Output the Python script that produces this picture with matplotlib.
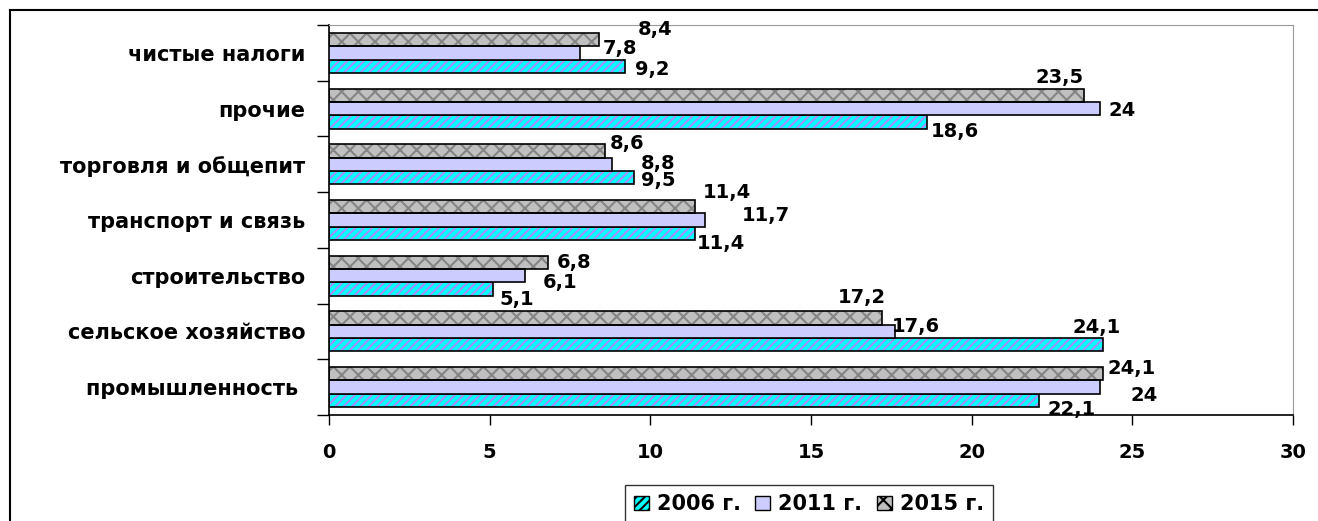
import matplotlib
matplotlib.use('Agg')
import matplotlib.pyplot as plt
from matplotlib.lines import Line2D
from matplotlib.patches import Patch
import numpy as np

plt.rcParams['font.family'] = ['DejaVu Sans']
plt.rcParams['font.weight'] = 'bold'
plt.rcParams['hatch.linewidth'] = 1.5

# данные (снизу вверх, как в Excel)
categories = ['промышленность ', 'сельское хозяйство', 'строительство',
              'транспорт и связь', 'торговля и общепит', 'прочие', 'чистые налоги']
years = ['2006 г.', '2011 г.', '2015 г.']
vals_2006 = [22.1, 24.1, 5.1, 11.4, 9.5, 18.6, 9.2]
vals_2011 = [24, 17.6, 6.1, 11.7, 8.8, 24, 7.8]
vals_2015 = [24.1, 17.2, 6.8, 11.4, 8.6, 23.5, 8.4]
x_ticks = [0, 5, 10, 15, 20, 25, 30]

# сдвиги подписей (пиксели: вправо, вниз)
off_2006 = [(8, 9), (-31, -17), (7, 10), (1, 10), (7, 3), (4, 10), (10, 3)]
off_2011 = [(30, 8), (-3, -5), (18, 7), (37, -5), (29, -1), (8, 2), (23, -4)]
off_2015 = [(4, -5), (-44, -21), (9, 0), (7, -14), (4, -7), (-49, -18), (39, -10)]

fig = plt.figure(figsize=(13.18, 5.21), dpi=100)
ax = fig.add_axes([329 / 1318, 1 - 415 / 521, (1293 - 329) / 1318, (415 - 25) / 521])

y = np.arange(len(categories))
h = 0.24

# 2006 — голубой со штриховкой
ax.barh(y - h, vals_2006, height=h, color='#00FFFF', edgecolor='#A58CFF',
        hatch='////', linewidth=0, zorder=2)
ax.barh(y - h, vals_2006, height=h, color='none', edgecolor='black', linewidth=1.2, zorder=3)
# 2011 — лавандовый
ax.barh(y, vals_2011, height=h, color='#CCCCFF', edgecolor='black', linewidth=1.2, zorder=3)
# 2015 — серая текстура
ax.barh(y + h, vals_2015, height=h, color='#C0C0C0', edgecolor='#858585',
        hatch='xx', linewidth=0, zorder=2)
ax.barh(y + h, vals_2015, height=h, color='none', edgecolor='black', linewidth=1.2, zorder=3)

def fmt(v):
    return f'{v:g}'.replace('.', ',')

for vals, offs, dy_bar in [(vals_2006, off_2006, -h), (vals_2011, off_2011, 0), (vals_2015, off_2015, h)]:
    for i, v in enumerate(vals):
        dx, dy = offs[i]
        ax.annotate(fmt(v), (v, i + dy_bar), xytext=(dx * 0.72, -dy * 0.72),
                    textcoords='offset points', ha='left', va='center',
                    fontsize=14, fontweight='bold', zorder=4)

ax.set_xlim(0, 30)
ax.set_ylim(-0.5, len(categories) - 0.5)
ax.set_xticks(x_ticks)
ax.set_xticklabels([str(t) for t in x_ticks], fontsize=14, fontweight='bold')
ax.tick_params(axis='x', direction='out', length=7, width=1, pad=13)

ax.set_yticks(y)
ax.set_yticklabels(categories, fontsize=15, fontweight='bold')
ax.set_yticks(np.arange(-0.5, len(categories), 1), minor=True)
ax.tick_params(axis='y', which='major', length=0, pad=17)
ax.tick_params(axis='y', which='minor', direction='out', length=9, width=1)

ax.spines['left'].set_linewidth(1.2)
ax.spines['bottom'].set_linewidth(1.2)
ax.spines['top'].set_color('#999999')
ax.spines['right'].set_color('#999999')

# внешняя рамка
fig.add_artist(Line2D([10 / 1318, 1], [1 - 10 / 521, 1 - 10 / 521], color='black', lw=1.5,
                      transform=fig.transFigure))
fig.add_artist(Line2D([10 / 1318, 10 / 1318], [0, 1 - 10 / 521], color='black', lw=1.5,
                      transform=fig.transFigure))

handles = [Patch(facecolor='#00FFFF', edgecolor='black', hatch='////'),
           Patch(facecolor='#CCCCFF', edgecolor='black'),
           Patch(facecolor='#C0C0C0', edgecolor='black', hatch='xx')]
leg = fig.legend(handles, years, loc='upper center', bbox_to_anchor=(809 / 1318, 1 - 485 / 521),
                 ncol=3, prop={'weight': 'bold', 'size': 15}, frameon=True, fancybox=False,
                 edgecolor='black', handlelength=0.7, handleheight=0.7, handletextpad=0.4,
                 columnspacing=0.7, borderpad=0.45, borderaxespad=0)
leg.get_frame().set_linewidth(1.0)

fig.savefig('out.png', dpi=100)
